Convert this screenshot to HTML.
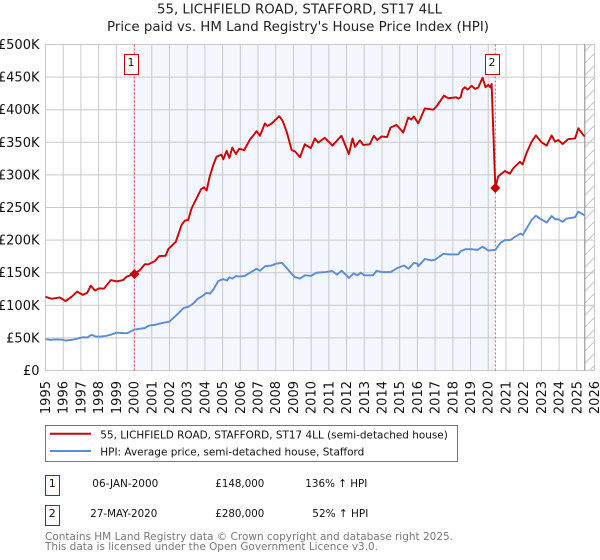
<!DOCTYPE html>
<html>
<head>
<meta charset="utf-8">
<title>55, Lichfield Road price chart</title>
<style>
html,body{margin:0;padding:0;background:#fff;}
svg{display:block;font-family:"DejaVu Sans","Liberation Sans",sans-serif;}
</style>
</head>
<body>
<svg id="chart" xmlns="http://www.w3.org/2000/svg" width="600" height="560" viewBox="0 0 600 560">
<defs>
<pattern id="hatch" patternUnits="userSpaceOnUse" width="12" height="12">
<line x1="0" y1="12" x2="12" y2="0" stroke="#c4c4c4" stroke-width="1"></line>
</pattern>
</defs>
<g id="bg"></g>
<g id="grid"></g>
<g id="marks"></g>
<g id="ticks"></g>
<text x="157" y="13.5" font-size="13" textLength="285" lengthAdjust="spacingAndGlyphs" fill="#222">55, LICHFIELD ROAD, STAFFORD, ST17 4LL</text>
<text x="107" y="31" font-size="13" textLength="382" lengthAdjust="spacingAndGlyphs" fill="#222">Price paid vs. HM Land Registry's House Price Index (HPI)</text>

<g>
<rect x="45.5" y="425.5" width="412" height="36" fill="#fff" stroke="#777"></rect>
<line x1="50" x2="91" y1="433.7" y2="433.7" stroke="#cc0000" stroke-width="2"></line>
<text x="100.3" y="438.5" font-size="11" textLength="347.5" lengthAdjust="spacingAndGlyphs" fill="#111">55, LICHFIELD ROAD, STAFFORD, ST17 4LL (semi-detached house)</text>
<line x1="50" x2="91" y1="451" y2="451" stroke="#5b8dd6" stroke-width="2"></line>
<text x="100.3" y="455.5" font-size="11" textLength="264" lengthAdjust="spacingAndGlyphs" fill="#111">HPI: Average price, semi-detached house, Stafford</text>
</g>

<g font-size="11" fill="#111">
<rect x="45.5" y="475.5" width="14" height="20" fill="#fff" stroke="#cc0000"></rect>
<text x="52.3" y="487" text-anchor="middle">1</text>
<text x="92.3" y="487" textLength="66" lengthAdjust="spacingAndGlyphs">06-JAN-2000</text>
<text x="215.3" y="487" textLength="49" lengthAdjust="spacingAndGlyphs">£148,000</text>
<text x="305.3" y="487" textLength="62" lengthAdjust="spacingAndGlyphs">136% ↑ HPI</text>
<rect x="45.5" y="505.5" width="14" height="20" fill="#fff" stroke="#cc0000"></rect>
<text x="52.3" y="517" text-anchor="middle">2</text>
<text x="90.3" y="517" textLength="67" lengthAdjust="spacingAndGlyphs">27-MAY-2020</text>
<text x="215.3" y="517" textLength="49" lengthAdjust="spacingAndGlyphs">£280,000</text>
<text x="312.3" y="517" textLength="56" lengthAdjust="spacingAndGlyphs">52% ↑ HPI</text>
</g>

<text x="45" y="540" font-size="11" textLength="408" lengthAdjust="spacingAndGlyphs" fill="#777">Contains HM Land Registry data © Crown copyright and database right 2025.</text>
<text x="45" y="550" font-size="11" textLength="333" lengthAdjust="spacingAndGlyphs" fill="#777">This data is licensed under the Open Government Licence v3.0.</text>
</svg>
<script>
var yearTicks = [1995,1996,1997,1998,1999,2000,2001,2002,2003,2004,2005,2006,2007,2008,2009,2010,2011,2012,2013,2014,2015,2016,2017,2018,2019,2020,2021,2022,2023,2024,2025,2026];
var valueTicks = [0,50,100,150,200,250,300,350,400,450,500];
var valueTickLabels = ["£0","£50K","£100K","£150K","£200K","£250K","£300K","£350K","£400K","£450K","£500K"];

var priceDates = [1995,1995.34,1995.81,1996.13,1996.47,1996.79,1997.09,1997.35,1997.56,1997.79,1998.03,1998.3,1998.69,1999.01,1999.39,1999.58,2000.02,2000.33,2000.61,2000.8,2001.18,2001.42,2001.78,2001.93,2002.36,2002.68,2002.87,2003.06,2003.25,2003.53,2003.78,2003.95,2004.1,2004.25,2004.47,2004.66,2004.94,2005.04,2005.23,2005.38,2005.55,2005.75,2005.94,2006.22,2006.54,2006.92,2007.11,2007.39,2007.54,2007.77,2008.2,2008.39,2008.62,2008.9,2009.09,2009.37,2009.64,2009.98,2010.21,2010.4,2010.77,2011.2,2011.71,2012.13,2012.34,2012.47,2012.75,2012.94,2013.31,2013.54,2013.73,2013.97,2014.29,2014.48,2014.82,2015.2,2015.48,2015.65,2015.8,2016.05,2016.42,2016.89,2017.08,2017.5,2017.74,2018.21,2018.3,2018.44,2018.55,2018.68,2018.85,2019.06,2019.25,2019.44,2019.68,2019.85,2020,2020.13,2020.19,2020.4,2020.56,2020.94,2021.22,2021.41,2021.79,2021.94,2022.17,2022.45,2022.69,2023.01,2023.3,2023.58,2023.77,2023.96,2024.2,2024.52,2024.9,2025.09,2025.37,2025.45];
var priceValues = [113,110,112,106.5,113,121,116,119,130,122.6,126,125.5,138.7,136.6,138.7,144,148,154,163,162.7,168,175.5,176,186,197.5,223,230,231,248.7,264,278,281,276,295,315,328,331,324,337,326,342,332,340,338,354,367,360,379,375,379,390,383,366,338,336,327,347,341,356,349.5,357,345,360,332,356,343,353,346,347,360,353.5,359,358,372.6,376.7,365,388,385,389.5,379,402,400,405,421.7,417.6,419,417,419,431,434.5,431,436.6,432,434,449,434.5,438,434,439.6,280,297.5,306,302,310,320,316,334,351,360.5,350,345,360.5,351,353.5,347.4,355,356,371.5,361,359];

var hpiDates = [1995,1995.25,1995.5,1995.75,1996,1996.13,1996.5,1996.8,1997.1,1997.35,1997.6,1997.85,1998.1,1998.4,1998.7,1999,1999.3,1999.6,2000,2000.3,2000.6,2000.85,2001.2,2001.45,2001.8,2002,2002.4,2002.8,2003.1,2003.35,2003.6,2003.85,2004.1,2004.3,2004.5,2004.75,2005,2005.05,2005.25,2005.38,2005.55,2005.75,2005.95,2006.25,2006.55,2006.92,2007.11,2007.4,2007.75,2008.05,2008.35,2008.6,2008.9,2009.1,2009.37,2009.65,2010,2010.3,2010.8,2011.2,2011.45,2011.71,2012,2012.13,2012.4,2012.6,2012.8,2013,2013.5,2013.7,2014,2014.5,2014.85,2015.25,2015.5,2015.8,2016,2016.05,2016.42,2016.8,2017,2017.47,2017.8,2018.2,2018.3,2018.45,2018.55,2018.7,2019.05,2019.4,2019.68,2020,2020.4,2020.7,2020.95,2021.25,2021.45,2021.82,2021.95,2022.17,2022.45,2022.69,2022.92,2023.3,2023.58,2023.77,2023.96,2024.2,2024.42,2024.9,2025.09,2025.37,2025.45];
var hpiValues = [48,47,47.5,47.5,47,46,47,49,51,50.5,54.7,52,52,53,55,58,57.5,57,62.6,64,65,69,70,72,74,75,85,96,98,103,110,114,119,118,125,137,140,140,138,143,141,145,144,145,150,156,153,160,161,164,165,158,148,143,141,146,145,150,151,152.5,147,153,146,142,149,146,150,146,146,153,151,151,157,161,156,165,164,160,171,169,170,179,178,178,178,183,184,186,186,185,190,184,185,196,200,200,204,210,208,218,231,237.5,233,227,237,232,232,228,233,235,243.6,239,238];

var sales = [
  {label:"1", date:2000.02, value:148},
  {label:"2", date:2020.4, value:280}
];

var NS = "http://www.w3.org/2000/svg";
var plotLeft = 45.5, plotRight = 594.5, plotTop = 44.5, plotBottom = 370.5;
var hatchStart = 2025.45;

function xScale(d){ return plotLeft + (d - 1995) * (plotRight - plotLeft) / 31; }
function yScale(v){ return plotBottom - v * (plotBottom - plotTop) / 500; }
function mk(tag, parent, attrs){
  var e = document.createElementNS(NS, tag);
  for (var k in attrs) e.setAttribute(k, attrs[k]);
  parent.appendChild(e);
  return e;
}
function linePath(dates, values){
  return dates.map(function(d, i){
    return (i ? "L" : "M") + xScale(d).toFixed(2) + " " + yScale(values[i]).toFixed(2);
  }).join(" ");
}

var bg = document.getElementById("bg");
var grid = document.getElementById("grid");
var marks = document.getElementById("marks");
var ticks = document.getElementById("ticks");

var shade = mk("rect", bg, {x:xScale(sales[0].date), y:plotTop, width:xScale(sales[1].date)-xScale(sales[0].date), height:plotBottom-plotTop, fill:"#f4f7ff"});



yearTicks.forEach(function(y){
  var l = mk("line", grid, {x1:xScale(y), x2:xScale(y), y1:plotTop, y2:plotBottom, stroke:"#c9c9c9", "stroke-width":1});
  
  
  var x = xScale(y), t = mk("text", ticks, {x:0, y:0, "font-size":13, fill:"#111", "text-anchor":"end", transform:"translate("+(x+4.5)+",381) rotate(-90)"});
  t.textContent = y;
  
  
});
valueTicks.forEach(function(v, i){
  var l = mk("line", grid, {x1:plotLeft, x2:plotRight, y1:yScale(v), y2:yScale(v), stroke:"#c9c9c9", "stroke-width":1});
  
  
  var t = mk("text", ticks, {x:39.5, y:yScale(v)+4.5, "font-size":13, fill:"#111", "text-anchor":"end"});
  t.textContent = valueTickLabels[i];
  
  
});

var hatch = mk("rect", marks, {x:xScale(hatchStart), y:plotTop, width:plotRight-xScale(hatchStart), height:plotBottom-plotTop, fill:"url(#hatch)"});


var hatchEdge = mk("line", marks, {x1:xScale(hatchStart), x2:xScale(hatchStart), y1:plotTop, y2:plotBottom, stroke:"#999", "stroke-width":1.2});



sales.forEach(function(s){
  var l = mk("line", marks, {x1:xScale(s.date), x2:xScale(s.date), y1:plotTop, y2:plotBottom, stroke:"#ff5050", "stroke-width":1, "stroke-dasharray":"2 2"});
  
  
});

var hpiLine = mk("path", marks, {d:linePath(hpiDates, hpiValues), fill:"none", stroke:"#5b8dd6", "stroke-width":1.9, "stroke-linejoin":"round"});


var priceLine = mk("path", marks, {d:linePath(priceDates, priceValues), fill:"none", stroke:"#cc0000", "stroke-width":1.9, "stroke-linejoin":"round"});



sales.forEach(function(s){
  var cx = xScale(s.date), cy = yScale(s.value), r = 5;
  var p = mk("polygon", marks, {points:[cx,cy-r,cx+r,cy,cx,cy+r,cx-r,cy].join(" "), fill:"#cc0000"});
  
  
  var b = mk("rect", marks, {x:Math.round(cx)-10+0.5, y:54.5, width:14, height:20, fill:"#fff", stroke:"#cc0000"});
  
  
  var t = mk("text", marks, {x:Math.round(cx)-3, y:66, "font-size":11, fill:"#111", "text-anchor":"middle"});
  t.textContent = s.label;
  
  
});
</script>
</body>
</html>
